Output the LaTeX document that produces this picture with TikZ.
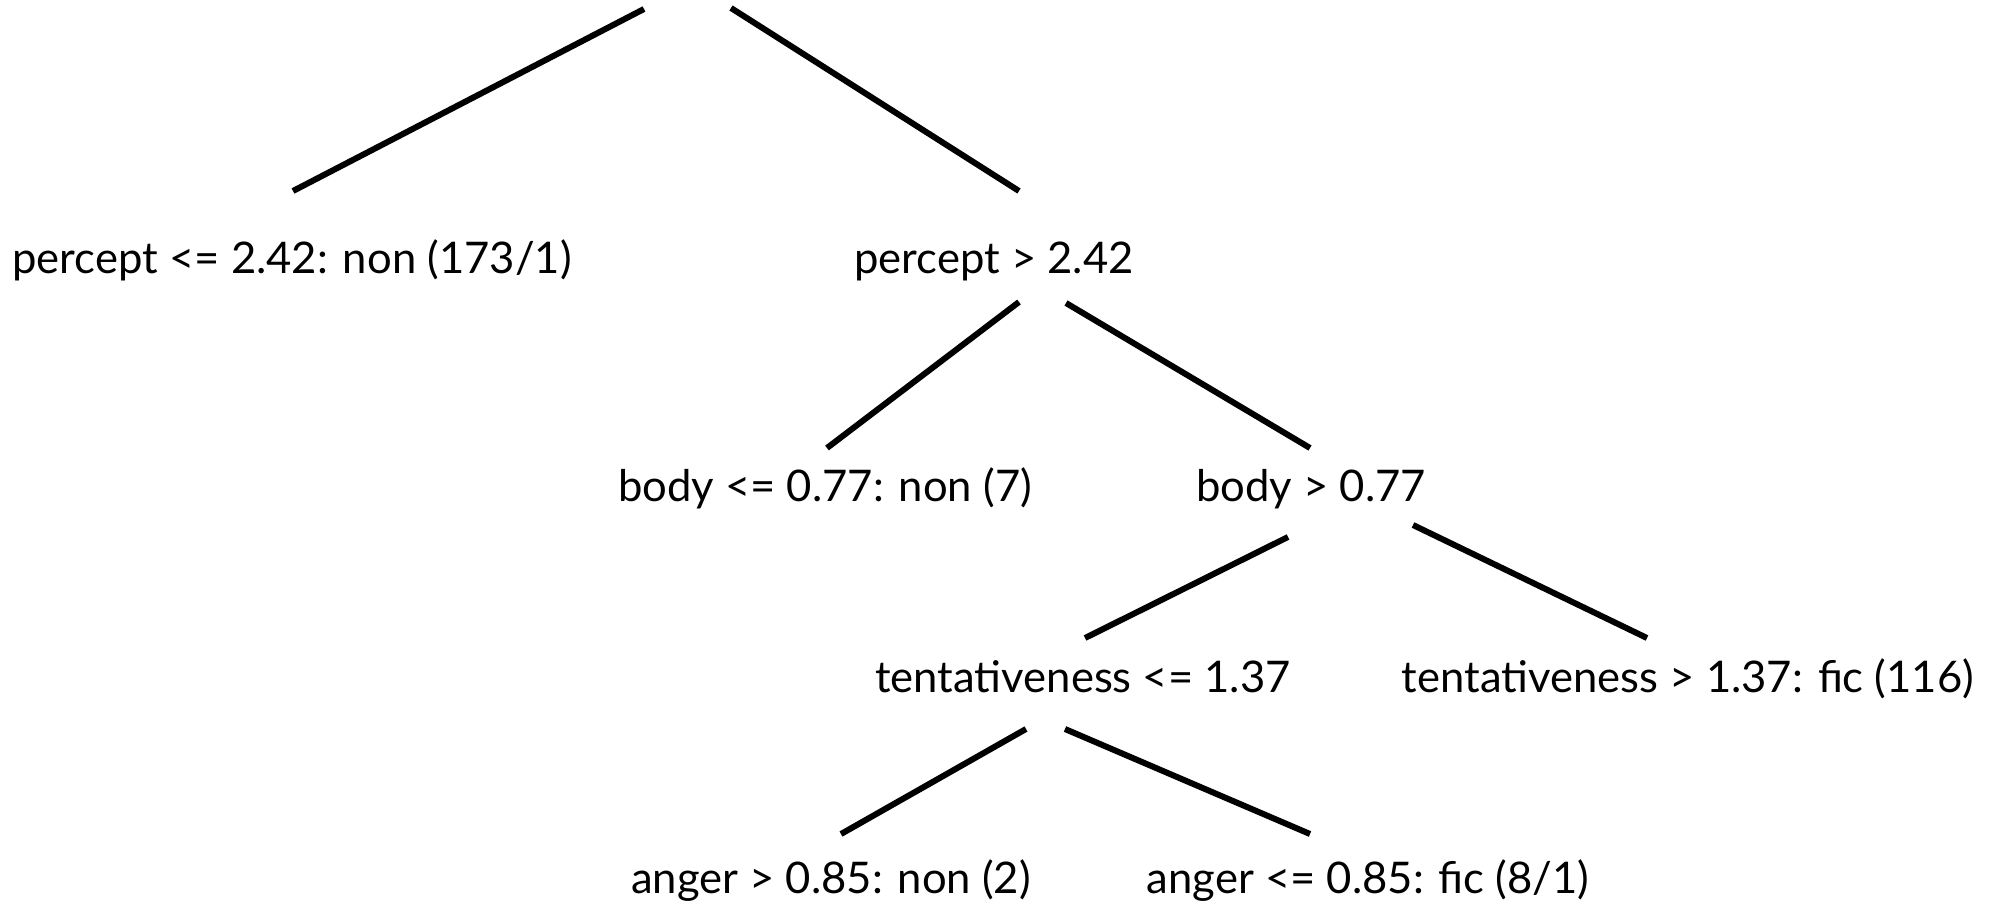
\documentclass[tikz,border=0pt]{standalone}
\usepackage{fontspec}
\setmainfont{Lato}
\begin{document}
\begin{tikzpicture}[x=1pt,y=-1pt,
  leaf/.style={anchor=base,inner sep=0pt,font=\fontsize{43.6}{50}\selectfont},
  edge/.style={line width=6pt,black}]
\useasboundingbox (0,0) rectangle (2003,907);

% tree labels
\node[leaf] (pl) at (292,273)  {percept <= 2.42: non (173/1)};
\node[leaf] (pg) at (994,273)  {percept > 2.42};
\node[leaf] (bl) at (825,501)  {body <= 0.77: non (7)};
\node[leaf] (bg) at (1311,501) {body > 0.77};
\node[leaf] (tl) at (1083,692) {tentativeness <= 1.37};
\node[leaf] (tg) at (1688,692) {tentativeness > 1.37: fic (116)};
\node[leaf] (ag) at (831,893)  {anger > 0.85: non (2)};
\node[leaf] (al) at (1368,893) {anger <= 0.85: fic (8/1)};

% branch end points
\coordinate (root-l) at (644,9);
\coordinate (root-r) at (731,8);
\coordinate (pl-top) at (293,191);
\coordinate (pg-top) at (1019,191);
\coordinate (pg-l) at (1019,302);
\coordinate (pg-r) at (1066,303);
\coordinate (bl-top) at (827,448);
\coordinate (bg-top) at (1310,448);
\coordinate (bg-l) at (1288,537);
\coordinate (bg-r) at (1413,525);
\coordinate (tl-top) at (1085,638);
\coordinate (tg-top) at (1647,638);
\coordinate (tl-l) at (1026,729);
\coordinate (tl-r) at (1065,729);
\coordinate (ag-top) at (841,834);
\coordinate (al-top) at (1310,834);

% branches
\draw[edge] (root-l) -- (pl-top);
\draw[edge] (root-r) -- (pg-top);
\draw[edge] (pg-l) -- (bl-top);
\draw[edge] (pg-r) -- (bg-top);
\draw[edge] (bg-l) -- (tl-top);
\draw[edge] (bg-r) -- (tg-top);
\draw[edge] (tl-l) -- (ag-top);
\draw[edge] (tl-r) -- (al-top);
\end{tikzpicture}
\end{document}
